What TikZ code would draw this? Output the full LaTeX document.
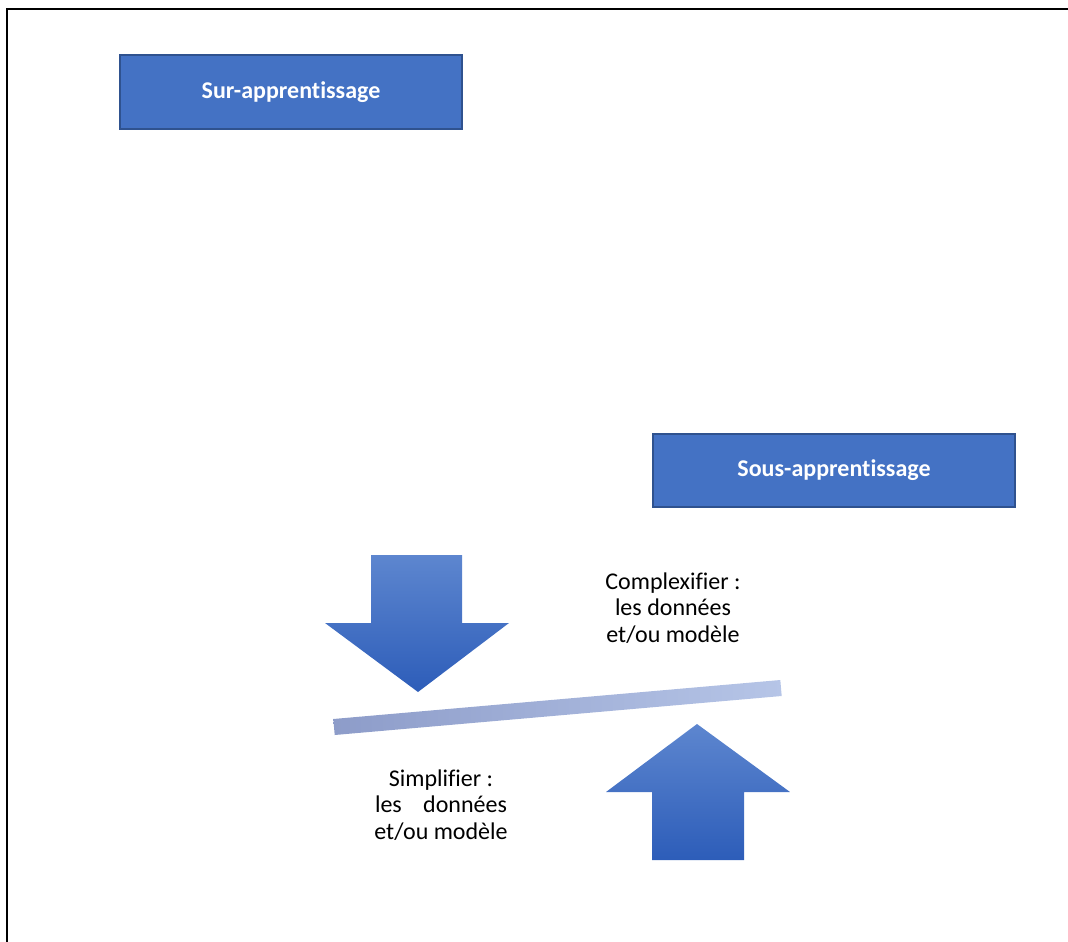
\documentclass[tikz,border=0pt]{standalone}
\usepackage{fontspec}
\setmainfont{Carlito}[Ligatures=NoCommon]
\definecolor{boxfill}{RGB}{68,114,196}
\definecolor{boxline}{RGB}{47,82,143}
\definecolor{arrowtop}{RGB}{93,134,207}
\definecolor{arrowbot}{RGB}{45,93,185}
\definecolor{barleft}{RGB}{141,156,201}
\definecolor{barright}{RGB}{182,197,231}
\begin{document}
\begin{tikzpicture}[x=1pt,y=-1pt,
  labelbox/.style={draw=boxline, fill=boxfill, line width=1.6pt, text=white,
    font=\fontsize{24}{28}\selectfont\bfseries, inner sep=0pt},
  caption/.style={align=center, font=\fontsize{24}{26.5}\selectfont, inner sep=0pt},
  bigarrow/.style={top color=arrowtop, bottom color=arrowbot, draw=none}]
  % page area and frame
  \useasboundingbox (0,0) rectangle (1068,942);
  \draw[line width=1.5pt] (7,960) -- (7,9) -- (1080,9);

  % the two regimes
  \node[labelbox, minimum width=342pt, minimum height=74pt] (sur) at (291,92) {Sur-apprentissage};
  \node[labelbox, minimum width=362pt, minimum height=73pt] (sous) at (834,470.5) {Sous-apprentissage};

  % downward push
  \shade[bigarrow] (371,555) -- (462,555) -- (462,623) -- (509,623) -- (418,692)
    -- (325,623) -- (371,623) -- cycle;
  % upward push
  \shade[bigarrow] (697,724) -- (790,792) -- (744,792) -- (744,860) -- (652,860)
    -- (652,792) -- (606,792) -- cycle;

  % tilted balance beam
  \shade[left color=barleft, right color=barright] (334.7,735) -- (781.7,696)
    -- (780.3,680) -- (333.3,719) -- cycle;

  % captions
  \node[caption] (cplx) at (673,608) {Complexifier :\\ les données\\ et/ou modèle};
  \node[caption] (simp) at (441,805) {Simplifier :\\ \makebox[132pt][s]{les\hfill données}\\ et/ou modèle};
\end{tikzpicture}
\end{document}
